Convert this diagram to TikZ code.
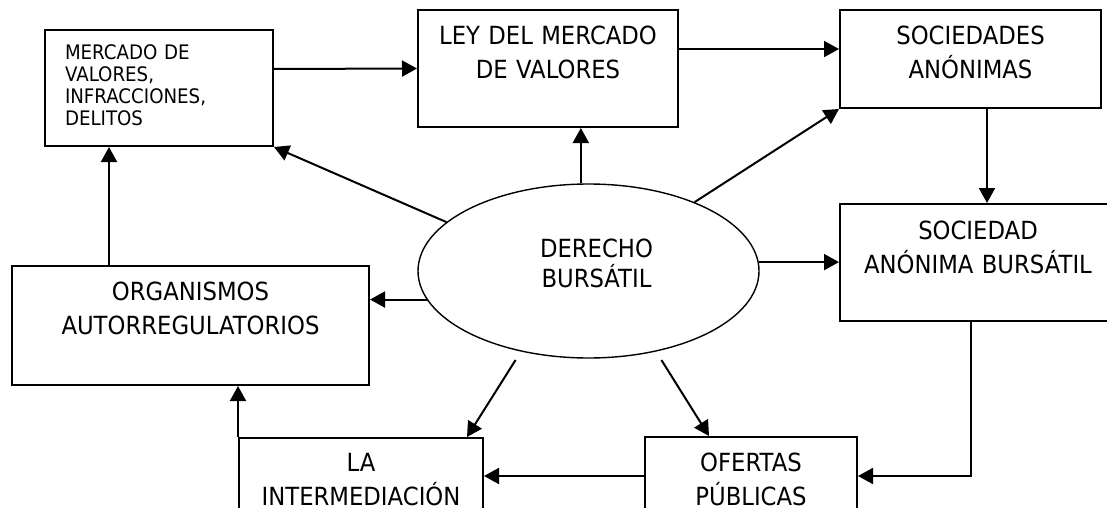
\documentclass[tikz,border=0pt]{standalone}
\usepackage{fontspec}
\setmainfont{DejaVu Sans}[FakeStretch=0.91]
\usetikzlibrary{arrows.meta,shapes.geometric}

\begin{document}
\begin{tikzpicture}[x=1pt,y=-1pt,
        caja/.style={draw,line width=2pt,inner xsep=0pt,inner ysep=0pt,align=center,font=\fontsize{25}{34}\selectfont},
        flecha/.style={-{Triangle[length=15pt,width=16pt]},line width=2pt}]
        \useasboundingbox(0,0)rectangle(1107,508);
        % cajas
        \node[caja,anchor=north west,text width=188pt,inner xsep=20pt,align=left,text height=30pt,text depth=86pt,font=\fontsize{20}{21.7}\selectfont](mercado)at(44,29){MERCADO DE\\VALORES,\\INFRACCIONES,\\DELITOS};
        \node[caja,anchor=north,text width=260pt,text height=35pt,text depth=82pt](ley)at(548,9){LEY DEL MERCADO\\DE VALORES};
        \node[caja,anchor=north,text width=261pt,text height=35pt,text depth=63pt](soc)at(970.5,9){SOCIEDADES\\ANÓNIMAS};
        \node[caja,anchor=north,text width=276pt,text height=35pt,text depth=82pt](sab)at(978,203){SOCIEDAD\\ANÓNIMA BURSÁTIL};
        \node[caja,anchor=north,text width=357pt,text height=34pt,text depth=85pt](org)at(190.5,265){ORGANISMOS\\AUTORREGULATORIOS};
        \node[caja,anchor=north,text width=244pt,text height=33pt,text depth=43pt](inter)at(361,437){LA\\INTERMEDIACIÓN};
        \node[caja,anchor=north,text width=212pt,text height=34pt,text depth=44pt](ofe)at(751,436){OFERTAS\\PÚBLICAS};
        \node[draw,ellipse,line width=1.4pt,minimum width=341pt,minimum height=174pt,inner sep=0pt,align=center,text height=50pt,text depth=18pt,font=\fontsize{25}{30}\selectfont](der)at(588.5,271){\hspace*{16pt}DERECHO\\\hspace*{16pt}BURSÁTIL};
        % flechas
        \draw[flecha]([yshift=19pt]mercado.east)--(ley.west);
        \draw[flecha]([yshift=19.5pt]ley.east)--([yshift=10pt]soc.west);
        \draw[flecha](der.95)--(der.95|-ley.south);
        \draw[flecha](der.33)--(soc.south west);
        \draw[flecha](der.161)--(mercado.south east);
        \draw[flecha]([xshift=16.5pt]soc.south)--([xshift=16.5pt]soc.south|-sab.north);
        \draw[flecha](der.3)--(der.3-|sab.west);
        \draw[flecha](der.190)--(der.190-|org.east);
        \draw[flecha,shorten <=10pt](der.230)--([xshift=106pt]inter.north);
        \draw[flecha,shorten <=10pt](der.310)--([xshift=-42pt]ofe.north);
        \draw[flecha](ofe.west)--(inter.east);
        \draw[flecha]([xshift=-7pt]sab.south)|-(ofe.east);
        \draw[flecha](inter.north west)--(inter.north west|-org.south);
        \draw[flecha]([xshift=-81.5pt]org.north)--([xshift=-81.5pt]org.north|-mercado.south);
    \end{tikzpicture}
\end{document}
